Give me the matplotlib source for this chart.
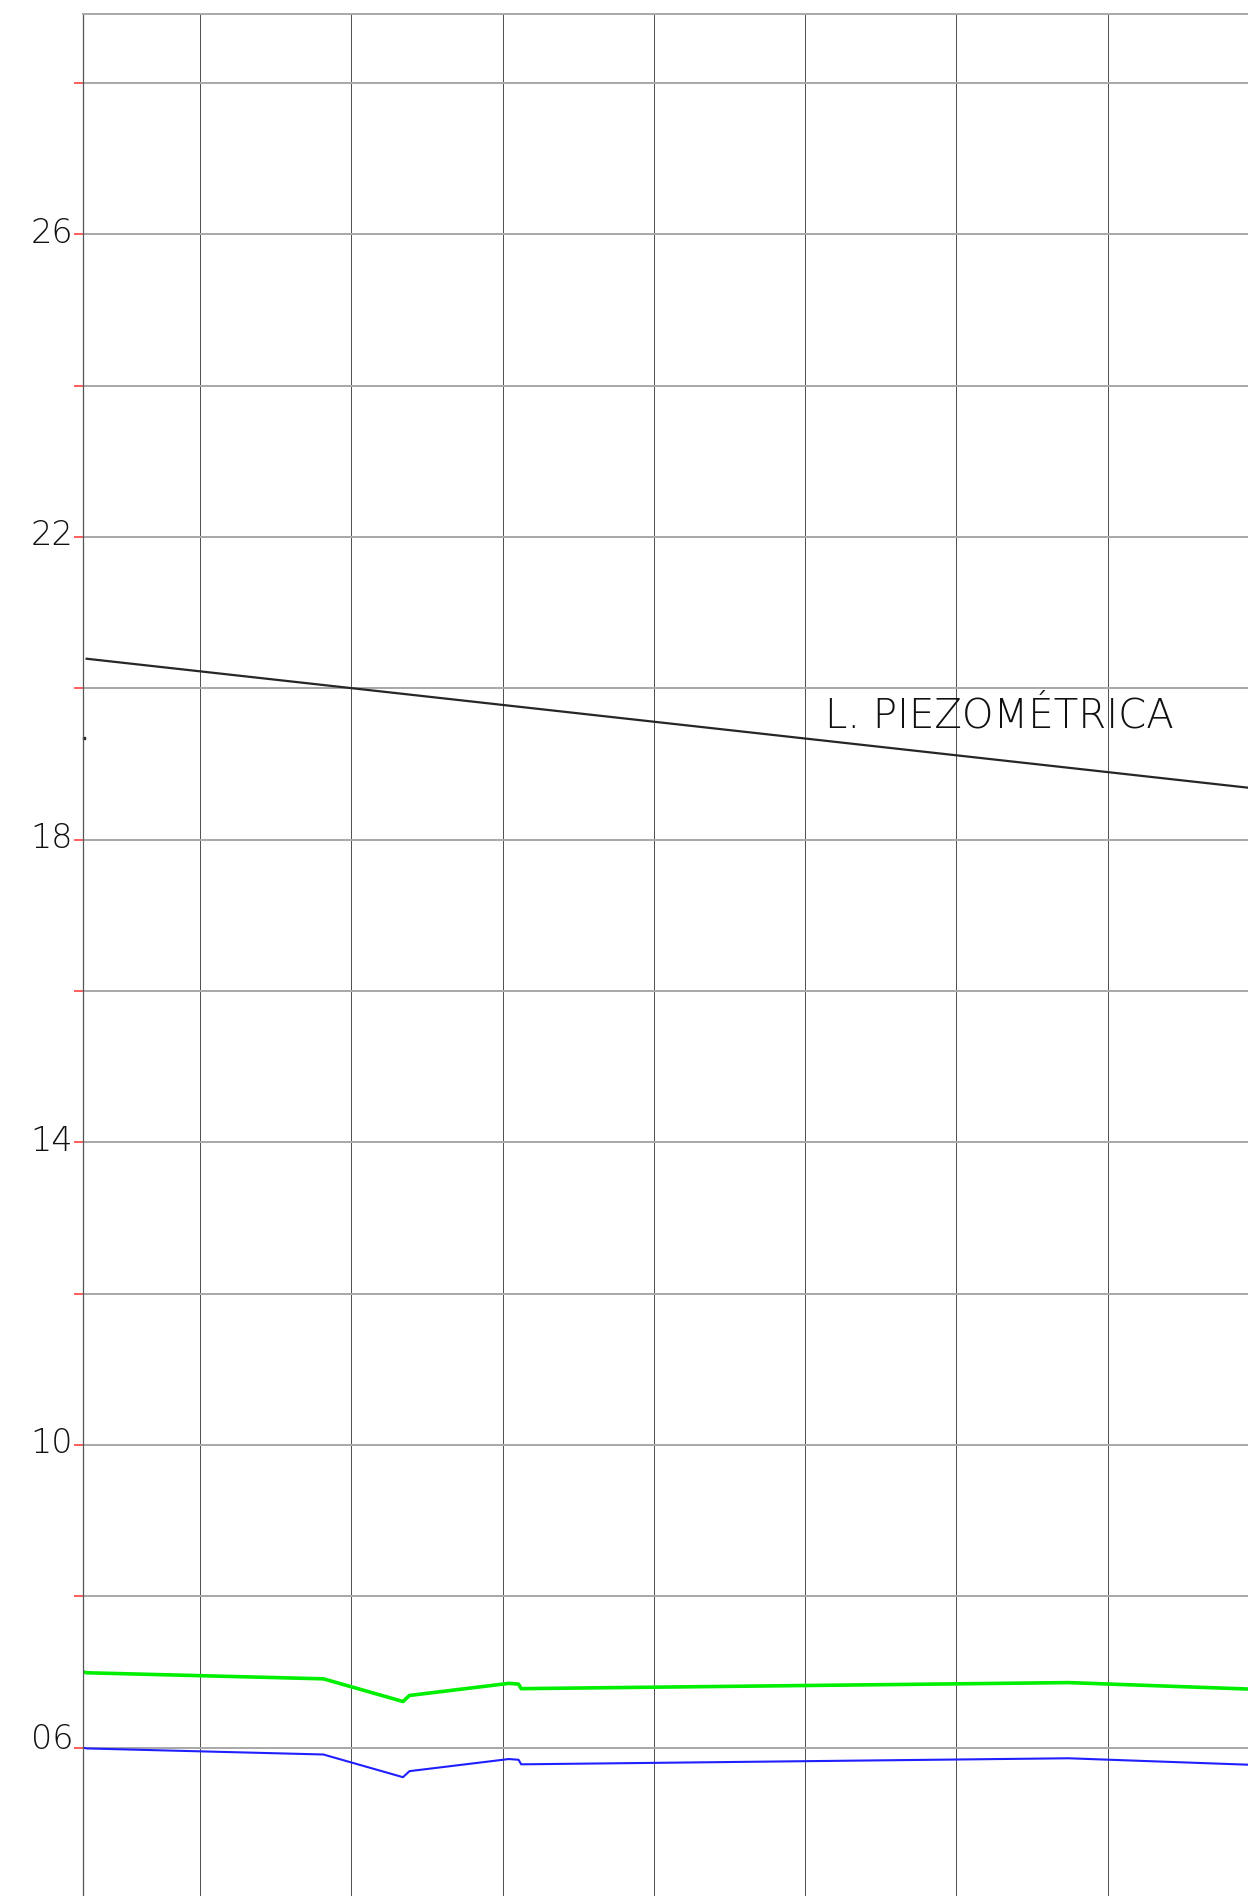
import matplotlib.pyplot as plt
import numpy as np

# limites del dibujo (distancia en m, cota en m)
x_lim = (4.56, 158.56)
y_lim = (4.04, 28.91)
x_grid = np.arange(20, 160, 20)
y_grid = np.arange(6, 29, 2)

# rotulos del eje de cotas
y_label_vals = [6, 10, 14, 18, 22, 26]
y_label_txt = ["06", "10", "14", "18", "22", "26"]

# linea piezometrica
piezo_x = [5.0, 160.0]
piezo_y = [20.39, 18.67]

# perfil verde
verde_x = [4.57, 5.0, 36.30, 46.83, 47.69, 60.84, 62.11, 62.46, 134.80, 160.0]
verde_y = [7.00, 6.99, 6.91, 6.61, 6.69, 6.85, 6.84, 6.78, 6.86, 6.77]

# perfil azul
azul_x = [4.57, 5.0, 36.30, 46.83, 47.69, 60.84, 62.11, 62.46, 134.80, 160.0]
azul_y = [6.00, 5.99, 5.91, 5.61, 5.69, 5.85, 5.84, 5.78, 5.86, 5.77]

# marca suelta sobre el eje
marca_y = [19.34]

W, H = 1248, 1896
fig = plt.figure(figsize=(W / 100, H / 100), dpi=100)
ax = fig.add_axes([83.3 / W, 0, 1 - 83.3 / W, 1 - 14 / H])

ax.set_xlim(*x_lim)
ax.set_ylim(*y_lim)
ax.set_xticks(x_grid)
ax.set_yticks(y_grid)

ax.grid(True, axis='x', color='#404040', linewidth=0.65)
ax.grid(True, axis='y', color='#a8a8a8', linewidth=1.4)
ax.set_axisbelow(True)

ax.tick_params(axis='x', length=0, labelbottom=False)
ax.tick_params(axis='y', length=6.8, width=1.3, color='#ff5050',
               direction='out', labelleft=False)

ax.spines['right'].set_color('none')
ax.spines['bottom'].set_color('none')
ax.spines['left'].set_color('#555555')
ax.spines['left'].set_linewidth(0.9)
ax.spines['top'].set_color('#a8a8a8')
ax.spines['top'].set_linewidth(1.4)

for v, t in zip(y_label_vals, y_label_txt):
    dy = 8 if t == "06" else 1
    ax.annotate(t, xy=(0, v), xycoords=ax.get_yaxis_transform(),
                xytext=(-10, dy), textcoords='offset pixels',
                ha='right', va='center', fontsize=24,
                family='DejaVu Sans', fontweight='light', color='#111111')

ax.plot(piezo_x, piezo_y, color='#262626', linewidth=1.6)
ax.plot(verde_x, verde_y, color='#00ee00', linewidth=2.6)
ax.plot(azul_x, azul_y, color='#1f1fff', linewidth=1.5)
ax.plot([x_lim[0] + 0.15] * len(marca_y), marca_y, marker='s', markersize=1.6,
        color='#222222', linestyle='none', clip_on=False)

ax.text(102.6, 19.48, "L. PIEZOMÉTRICA", fontsize=29, family='DejaVu Sans',
        fontweight='light', color='#111111', va='baseline', ha='left')

plt.savefig("out.png", dpi=100)
